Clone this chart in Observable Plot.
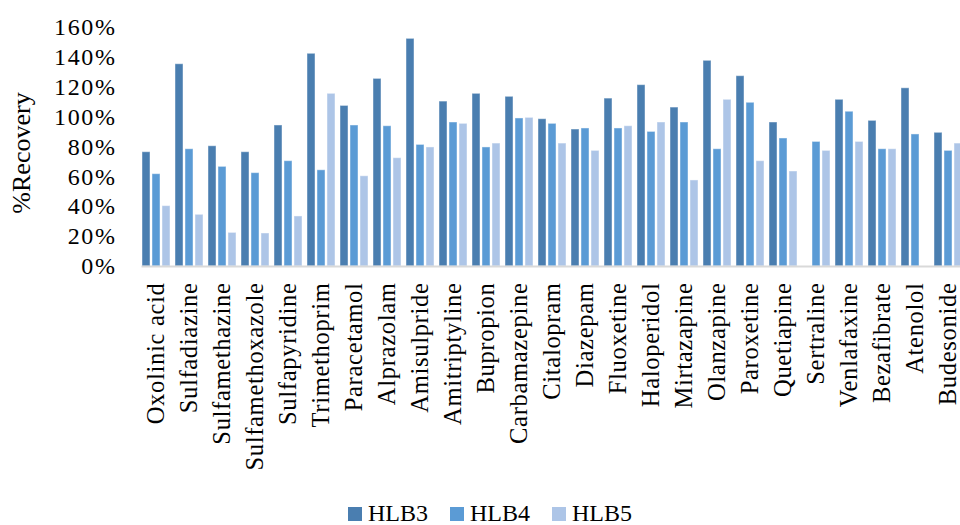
<!DOCTYPE html>
<html>
<head>
<meta charset="utf-8">
<script src="https://cdn.jsdelivr.net/npm/d3@7"></script>
<script src="https://cdn.jsdelivr.net/npm/@observablehq/plot@0.6"></script>
<style>
  html, body { margin: 0; padding: 0; background: #fff; overflow: hidden; }
  #wrap { position: relative; width: 960px; height: 525px; overflow: hidden; }
  #chart svg [aria-label="y-axis tick label"] { font-size: 24px; letter-spacing: 1.6px; }
  #chart svg [aria-label="fx-axis tick label"] { font-size: 24.5px; letter-spacing: 0.7px; }
  #legend {
    position: absolute; top: 500px; left: 348px;
    display: flex; align-items: center;
    font-family: "Liberation Serif", serif; font-size: 24px; color: #000;
  }
  #legend .item { display: flex; align-items: center; margin-right: 22px; }
  #legend .sw { width: 14px; height: 14px; margin-right: 6px; }
</style>
</head>
<body>
<div id="wrap"><div id="chart"></div><div id="legend"></div></div>
<script>
// Compounds along the x axis
const compounds = [
  "Oxolinic acid", "Sulfadiazine", "Sulfamethazine", "Sulfamethoxazole", "Sulfapyridine",
  "Trimethoprim", "Paracetamol", "Alprazolam", "Amisulpride", "Amitriptyline",
  "Bupropion", "Carbamazepine", "Citalopram", "Diazepam", "Fluoxetine",
  "Haloperidol", "Mirtazapine", "Olanzapine", "Paroxetine", "Quetiapine",
  "Sertraline", "Venlafaxine", "Bezafibrate", "Atenolol", "Budesonide"
];

// Sorbent series
const series = ["HLB3", "HLB4", "HLB5"];
const seriesColors = ["#4a7eb0", "#5b9bd5", "#adc5e7"];

// % recovery per compound (null = not reported)
const hlb3 = [76.5, 135.4, 80.5, 76.5, 94.4, 142.4, 107.5, 125.6, 152.4, 110.4,
              115.6, 113.6, 98.6, 91.7, 112.4, 121.4, 106.4, 137.7, 127.4, 96.4,
              null, 111.6, 97.5, 119.3, 89.5];
const hlb4 = [61.8, 78.5, 66.7, 62.5, 70.5, 64.4, 94.4, 93.9, 81.4, 96.4,
              79.7, 99.1, 95.5, 92.4, 92.4, 90.1, 96.4, 78.5, 109.6, 85.7,
              83.4, 103.6, 78.5, 88.4, 77.4];
const hlb5 = [40.4, 34.6, 22.5, 22.1, 33.5, 115.6, 60.4, 72.5, 79.7, 95.5,
              82.3, 99.5, 82.3, 77.4, 93.9, 96.4, 57.6, 111.6, 70.5, 63.6,
              77.4, 83.4, 78.5, null, 82.3];

// Y axis ticks
const yTicks = [0, 20, 40, 60, 80, 100, 120, 140, 160];
const yTitle = "%Recovery";

const valuesBySeries = [hlb3, hlb4, hlb5];
const rows = compounds.flatMap((c, i) =>
  series.map((s, j) => ({compound: c, series: s, value: valuesBySeries[j][i]}))
).filter(d => d.value != null);

const font = "'Liberation Serif', serif";

const chart = Plot.plot({
  width: 969,
  height: 500,
  marginLeft: 135,
  marginRight: 0,
  marginTop: 27,
  marginBottom: 234,
  style: {fontFamily: font, fontSize: "23px", color: "#000", background: "#fff", maxWidth: "none"},
  fx: {domain: compounds, paddingInner: 0.161, paddingOuter: 0.0805, label: null, axis: null},
  x: {domain: series, axis: null, paddingInner: 0.2, paddingOuter: 0},
  y: {domain: [0, 160], axis: null},
  color: {domain: series, range: seriesColors},
  marks: [
    Plot.barY(rows, {
      fx: "compound", x: "series", y: "value", fill: "series",
      stroke: "#ffffff", strokeOpacity: 0.45, strokeWidth: 1
    }),
    // baseline across the whole plot area
    Plot.frame({facet: "super", anchor: "bottom", stroke: "#d9d9d9", strokeWidth: 2}),
    Plot.axisY({
      ticks: yTicks, tickFormat: d => d + "%", tickSize: 0, tickPadding: 26,
      label: null
    }),
    Plot.axisFx({
      anchor: "bottom", tickRotate: -90, tickSize: 0, tickPadding: 16,
      label: null
    }),
    Plot.text([yTitle], {
      facet: "super", frameAnchor: "left", textAnchor: "middle", lineAnchor: "middle",
      rotate: -90, dx: -121, dy: 6, fontSize: 26, letterSpacing: 1, fill: "#000"
    })
  ]
});
document.getElementById("chart").appendChild(chart);

// Legend below the chart
const legend = document.getElementById("legend");
series.forEach((s, i) => {
  const item = document.createElement("div");
  item.className = "item";
  const sw = document.createElement("div");
  sw.className = "sw";
  sw.style.background = seriesColors[i];
  const label = document.createElement("span");
  label.textContent = s;
  item.appendChild(sw);
  item.appendChild(label);
  legend.appendChild(item);
});
</script>
</body>
</html>
